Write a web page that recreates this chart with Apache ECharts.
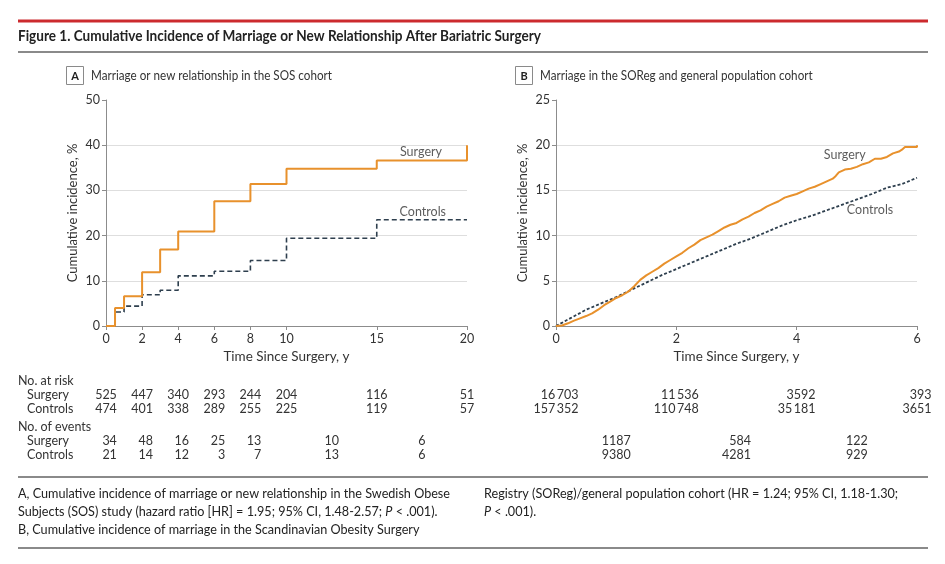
<!DOCTYPE html>
<html><head><meta charset="utf-8">
<script src="https://cdn.jsdelivr.net/npm/echarts@6/dist/echarts.min.js"></script>
<style>html,body{margin:0;padding:0;background:#fff}#c{width:945px;height:564px}</style>
</head><body><div id="c"></div>
<script>
// ---------- Data ----------
var titleText = 'Figure 1. Cumulative Incidence of Marriage or New Relationship After Bariatric Surgery';
var panelATitle = 'Marriage or new relationship in the SOS cohort';
var panelBTitle = 'Marriage in the SOReg and general population cohort';
var seriesNames = ['Surgery', 'Controls'];

// Panel A (Kaplan-Meier style steps: [year, cumulative incidence %])
var aSurgery = [[0,0],[0.5,4.0],[1,6.6],[2,11.9],[3,16.9],[4,20.9],[6,27.6],[8,31.4],[10,34.8],[15,36.6],[20,40.0]];
var aControls = [[0,0],[0.5,3.1],[1,4.4],[2,6.9],[3,7.9],[4,11.1],[6,12.1],[8,14.5],[10,19.4],[15,23.5],[20,23.5]];
var aXTicks = [0,2,4,6,8,10,15,20];
var aRiskX = [0,2,4,6,8,10,15,20];
var aRiskSurgery = ['525','447','340','293','244','204','116','51'];
var aRiskControls = ['474','401','338','289','255','225','119','57'];
var aEventX = [0,2,4,6,8,12.5,17.5];
var aEventSurgery = ['34','48','16','25','13','10','6'];
var aEventControls = ['21','14','12','3','7','13','6'];

// Panel B
var bSurgery = [[0,0],[0.1,0.05],[0.2,0.3],[0.3,0.6],[0.4,0.85],[0.5,1.1],[0.6,1.4],[0.7,1.8],[0.8,2.3],[0.9,2.7],[1.0,3.1],[1.1,3.4],[1.2,3.8],[1.3,4.4],[1.4,5.1],[1.5,5.6],[1.6,6.0],[1.7,6.4],[1.8,6.9],[1.9,7.3],[2.0,7.7],[2.1,8.1],[2.2,8.6],[2.3,9.0],[2.4,9.5],[2.5,9.8],[2.6,10.1],[2.7,10.5],[2.8,10.9],[2.9,11.2],[3.0,11.4],[3.1,11.8],[3.2,12.1],[3.3,12.5],[3.4,12.8],[3.5,13.2],[3.6,13.5],[3.7,13.8],[3.8,14.2],[3.9,14.4],[4.0,14.6],[4.1,14.9],[4.2,15.2],[4.3,15.4],[4.4,15.7],[4.5,16.0],[4.6,16.3],[4.65,16.6],[4.7,17.0],[4.8,17.3],[4.9,17.4],[5.0,17.6],[5.1,17.9],[5.2,18.1],[5.3,18.5],[5.4,18.5],[5.5,18.7],[5.6,19.1],[5.7,19.3],[5.75,19.5],[5.8,19.8],[5.9,19.8],[6.0,19.8],[6.0,20.0]];
var bControls = [[0,0],[0.25,0.9],[0.5,1.8],[0.75,2.5],[1.0,3.2],[1.25,4.0],[1.5,4.8],[1.75,5.6],[2.0,6.3],[2.25,7.0],[2.5,7.7],[2.75,8.4],[3.0,9.1],[3.25,9.7],[3.5,10.4],[3.75,11.1],[4.0,11.7],[4.25,12.2],[4.5,12.8],[4.75,13.4],[5.0,14.0],[5.25,14.6],[5.5,15.3],[5.75,15.7],[6.0,16.4]];
var bRiskX = [0,2,4,6];
var bRiskSurgery = ['16\u2009703','11\u2009536','3592','393'];
var bRiskControls = ['157\u2009352','110\u2009748','35\u2009181','3651'];
var bEventX = [1,3,5];
var bEventSurgery = ['1187','584','122'];
var bEventControls = ['9380','4281','929'];

// series label anchors [x, y] in data units
var aLabelPos = [[17.45,38.6],[17.55,25.3]];
var bLabelPos = [[4.8,18.9],[5.22,12.8]];

var captionCol1 = [
  [{t:'A, Cumulative incidence of marriage or new relationship in the Swedish Obese'}],
  [{t:'Subjects (SOS) study (hazard ratio [HR] = 1.95; 95% CI, 1.48-2.57; '},{t:'P',i:true},{t:' < .001).'}],
  [{t:'B, Cumulative incidence of marriage in the Scandinavian Obesity Surgery'}]
];
var captionCol2 = [
  [{t:'Registry (SOReg)/general population cohort (HR = 1.24; 95% CI, 1.18-1.30;'}],
  [{t:'P',i:true},{t:' < .001).'}]
];

// ---------- Styles ----------
var FONT = 'Lato, "Open Sans", sans-serif';
var ORANGE = '#E8912C';
var SLATE = '#2E3F4E';
var AXIS = '#8c8c8c';
var TXT = '#333333';
var GRIDC = '#dedede';

function xAxisCfg(idx, max, ticks) {
  var o = {
    type:'value', gridIndex: idx, min:0, max:max,
    name:'Time Since Surgery, y', nameLocation:'middle', nameGap:24,
    nameTextStyle:{color:TXT, fontSize:13.5, fontFamily:FONT},
    axisLine:{show:true, onZero:false, lineStyle:{color:AXIS, width:1}},
    axisTick:{show:true, length:4, lineStyle:{color:AXIS}},
    axisLabel:{color:TXT, fontSize:12.5, fontFamily:FONT, margin:6},
    splitLine:{show:false}
  };
  if (ticks) { o.axisTick.customValues = ticks; o.axisLabel.customValues = ticks; }
  else { o.interval = 2; }
  return o;
}
function yAxisCfg(idx, max, step) {
  return {
    type:'value', gridIndex: idx, min:0, max:max, interval:step,
    name:'Cumulative incidence, %', nameLocation:'middle', nameGap:27,
    nameTextStyle:{color:TXT, fontSize:13, fontFamily:FONT},
    axisLine:{show:true, lineStyle:{color:AXIS, width:1}},
    axisTick:{show:true, length:4, lineStyle:{color:AXIS}},
    axisLabel:{color:TXT, fontSize:12.5, fontFamily:FONT, margin:6},
    splitLine:{show:true, lineStyle:{color:[GRIDC,GRIDC,GRIDC,GRIDC,GRIDC,'rgba(0,0,0,0)'], width:1}}
  };
}
function labelSeries(xi, pos, names) {
  return {
    type:'scatter', xAxisIndex:xi, yAxisIndex:xi, symbolSize:0, silent:true,
    data: pos.map(function(p,i){ return {value:p, name:names[i]}; }),
    label:{show:true, position:'inside', formatter:'{b}', color:TXT, fontSize:12.5, fontFamily:FONT},
    z:5
  };
}

var chart = echarts.init(document.getElementById('c'), null, {renderer:'canvas'});
var option = {
  animation:false,
  backgroundColor:'#ffffff',
  grid:[{left:106, top:100, width:361, height:226}, {left:556, top:100, width:361, height:226}],
  xAxis:[xAxisCfg(0,20,aXTicks), xAxisCfg(1,6,null)],
  yAxis:[yAxisCfg(0,50,10), yAxisCfg(1,25,5)],
  series:[
    {type:'line', name:seriesNames[1], xAxisIndex:0, yAxisIndex:0, step:'end', showSymbol:false, data:aControls,
      lineStyle:{color:SLATE, width:1.6, type:[5,3]}, z:3},
    {type:'line', name:seriesNames[0], xAxisIndex:0, yAxisIndex:0, step:'end', showSymbol:false, data:aSurgery,
      lineStyle:{color:ORANGE, width:2}, z:4},
    {type:'line', name:seriesNames[1], xAxisIndex:1, yAxisIndex:1, showSymbol:false, data:bControls,
      lineStyle:{color:SLATE, width:1.8, type:[3,2]}, z:3},
    {type:'line', name:seriesNames[0], xAxisIndex:1, yAxisIndex:1, showSymbol:false, data:bSurgery,
      lineStyle:{color:ORANGE, width:2}, z:4},
    labelSeries(0, aLabelPos, seriesNames),
    labelSeries(1, bLabelPos, seriesNames)
  ]
};
chart.setOption(option);

// ---------- Graphic text (title, panel labels, risk table, caption) ----------
var mctx = document.createElement('canvas').getContext('2d');
function tw(s, font) { mctx.font = font; return mctx.measureText(s).width; }
var NUMFONT = '12.5px ' + FONT;

var g = [];
function txt(x, y, s, opt) {
  opt = opt || {};
  var el = {type:'text', x:x, y:y, silent:true, style:{
    text:s, fill:opt.fill||TXT, font:opt.font||NUMFONT,
    textAlign:opt.align||'left', textVerticalAlign:'middle'}};
  if (opt.sx) el.scaleX = opt.sx;
  g.push(el);
}
function line(x1,y1,x2,y2,color,w){
  g.push({type:'line', silent:true, shape:{x1:x1,y1:y1,x2:x2,y2:y2}, style:{stroke:color, lineWidth:w}});
}

// rules and title (condensed by horizontal scaling)
line(18, 21, 928, 21, '#CC2A2E', 3);
line(18, 52, 928, 52, '#8a8a8a', 2);
var TITLEFONT = 'bold 15.5px ' + FONT;
txt(18, 36, titleText, {font:TITLEFONT, fill:'#222', sx: 523 / tw(titleText, TITLEFONT)});

// panel labels
var PTFONT = '13px ' + FONT;
var ptScale = 241 / tw(panelATitle, PTFONT);
function panelLabel(x, letter, title) {
  g.push({type:'rect', silent:true, shape:{x:x+0.5, y:66.5, width:17, height:18}, style:{fill:'#fff', stroke:'#8a8a8a', lineWidth:1}});
  txt(x+9, 76, letter, {font:'bold 11px ' + FONT, align:'center', fill:'#222'});
  txt(x+25, 75.5, title, {font:PTFONT, sx:ptScale});
}
panelLabel(66, 'A', panelATitle);
panelLabel(515, 'B', panelBTitle);

// risk table
var ROW = {riskHead:381, riskS:395, riskC:409, evHead:427, evS:441, evC:455};
txt(18, ROW.riskHead, 'No. at risk');
txt(27, ROW.riskS, seriesNames[0]);
txt(27, ROW.riskC, seriesNames[1]);
txt(18, ROW.evHead, 'No. of events');
txt(27, ROW.evS, seriesNames[0]);
txt(27, ROW.evC, seriesNames[1]);

function table(gi, riskX, riskS, riskC, evX, evS, evC) {
  var riskRight = {};
  riskX.forEach(function(xv, i){
    var px = chart.convertToPixel({gridIndex:gi}, [xv, 0])[0];
    var w = Math.max(tw(riskS[i], NUMFONT), tw(riskC[i], NUMFONT));
    var r = px + w/2;
    riskRight[xv] = r;
    txt(r, ROW.riskS, riskS[i], {align:'right'});
    txt(r, ROW.riskC, riskC[i], {align:'right'});
  });
  evX.forEach(function(xv, i){
    var px = chart.convertToPixel({gridIndex:gi}, [xv, 0])[0];
    var r;
    if (riskRight[xv] !== undefined) r = riskRight[xv];
    else r = px + Math.max(tw(evS[i], NUMFONT), tw(evC[i], NUMFONT))/2;
    txt(r, ROW.evS, evS[i], {align:'right'});
    txt(r, ROW.evC, evC[i], {align:'right'});
  });
}
table(0, aRiskX, aRiskSurgery, aRiskControls, aEventX, aEventSurgery, aEventControls);
table(1, bRiskX, bRiskSurgery, bRiskControls, bEventX, bEventSurgery, bEventControls);

// caption (condensed by horizontal scaling)
line(18, 477, 928, 477, '#8a8a8a', 2);
line(18, 548, 928, 548, '#8a8a8a', 2);
var CAPFONT = '13.5px ' + FONT;
var CAPIT = 'italic 13.5px ' + FONT;
var capScale = 432 / tw(captionCol1[0][0].t, CAPFONT);
function capLines(x, lines, y0) {
  lines.forEach(function(parts, li){
    var cx = x;
    parts.forEach(function(p){
      var f = p.i ? CAPIT : CAPFONT;
      txt(cx, y0 + li*18, p.t, {font:f, fill:'#222', sx:capScale});
      cx += tw(p.t, f) * capScale;
    });
  });
}
capLines(18, captionCol1, 494);
capLines(484, captionCol2, 494);

chart.setOption({graphic:{elements:g}});
</script>
</body></html>
